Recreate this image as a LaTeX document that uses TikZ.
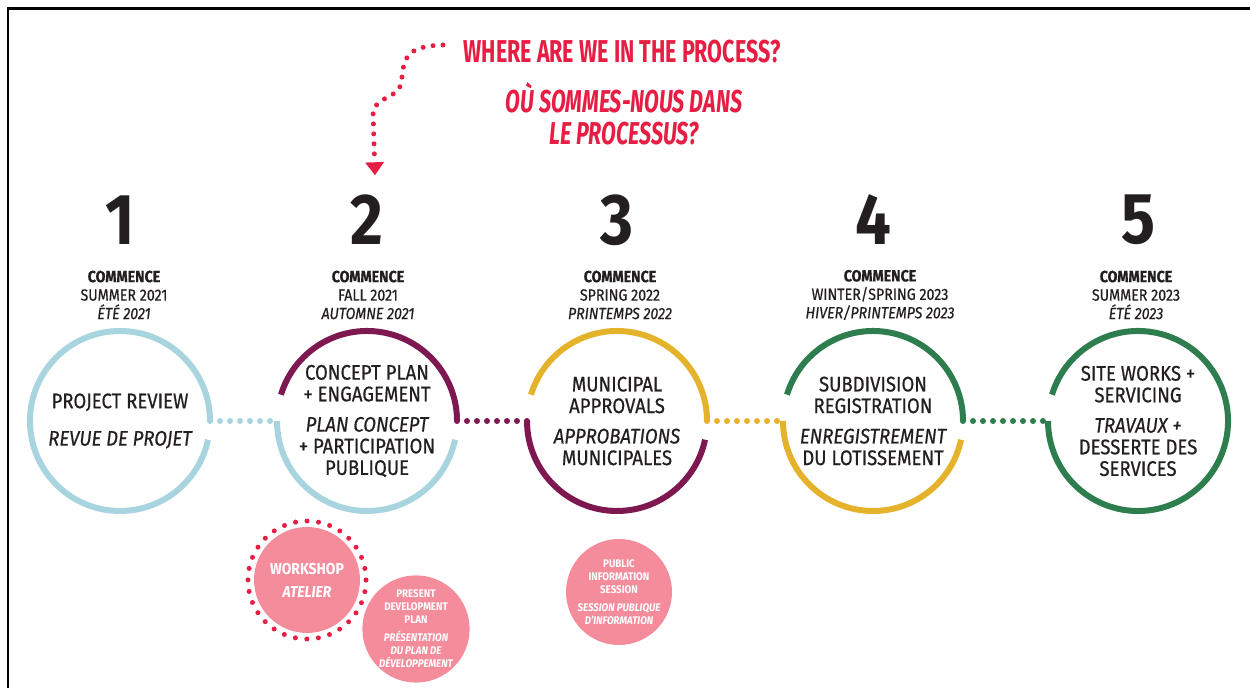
\documentclass[tikz,border=0pt]{standalone}
\usepackage{fontspec}
\setmainfont{Fira Sans}[FakeStretch=0.88]
\newfontfamily\titlefont{Fira Sans}[FakeStretch=0.68]
\newfontfamily\stagefont{Fira Sans}[FakeStretch=0.88, FakeBold=0.6]
\usetikzlibrary{positioning,arrows.meta}

\definecolor{ink}{HTML}{231F20}
\definecolor{skyring}{HTML}{A8D4E0}
\definecolor{plumring}{HTML}{7D1850}
\definecolor{goldring}{HTML}{E5B22B}
\definecolor{pinering}{HTML}{2E7D4F}
\definecolor{alertred}{HTML}{E61E43}
\definecolor{bubble}{HTML}{F48C9C}

\tikzset{
  ring/.style={line width=1.2mm},
  linkdots/.style={line width=1.2mm, line cap=round, dash pattern=on 0pt off 2mm},
  stage/.style={circle, minimum size=3.6cm, inner sep=0pt, outer sep=0pt, align=center,
    text=ink, font=\stagefont\fontsize{12}{12.3}\selectfont},
  bignum/.style={text=ink, inner sep=2pt, font=\fontsize{41}{41}\selectfont\bfseries},
  when/.style={text=ink, align=center, font=\stagefont\fontsize{9.2}{10.5}\selectfont},
  bubblenode/.style={circle, fill=bubble, text=white, inner sep=0pt, minimum size=2.12cm, align=center}
}

\begin{document}
\begin{tikzpicture}[x=0.02cm, y=0.02cm]
  \useasboundingbox (0,0) rectangle (1250,688);
  % Frame
  \draw[line width=1.7pt] (8,0) -- (8,679) -- (1250,679);

  % Title
  \node[text=alertred, font=\titlefont\bfseries\fontsize{18}{18}\selectfont] (asken) at (622,636)
    {WHERE ARE WE IN THE PROCESS?};
  \node[text=alertred, align=center, font=\titlefont\bfseries\itshape\fontsize{18}{18}\selectfont] (askfr) at (624,574)
    {OÙ SOMMES-NOUS DANS\\LE PROCESSUS?};

  % Stages
  \node[stage] (s1) at (120,267) {PROJECT REVIEW\\[9pt]\itshape REVUE DE PROJET};
  \node[stage] (s2) at (367,267) {CONCEPT PLAN\\+ ENGAGEMENT\\[5pt]\itshape PLAN CONCEPT\\+ PARTICIPATION\\PUBLIQUE};
  \node[stage] (s3) at (617,267) {MUNICIPAL\\APPROVALS\\[5pt]\itshape APPROBATIONS\\MUNICIPALES};
  \node[stage] (s4) at (873,267) {SUBDIVISION\\REGISTRATION\\[5pt]\itshape ENREGISTREMENT\\DU LOTISSEMENT};
  \node[stage] (s5) at (1138,267) {SITE WORKS +\\SERVICING\\[5pt]\itshape TRAVAUX +\\DESSERTE DES\\SERVICES};

  % Rings
  \draw[ring, skyring] (s1.0) arc[start angle=0, end angle=348, radius=90];
  \foreach \s/\low/\up in {s2/skyring/plumring, s3/plumring/goldring, s4/goldring/pinering} {
    \draw[ring, \low] (\s.180) arc[start angle=180, end angle=348, radius=90];
    \draw[ring, \up] (\s.163) arc[start angle=163, end angle=0, radius=90];
  }
  \draw[ring, pinering] (s5.163) arc[start angle=163, end angle=-180, radius=90];

  % Links
  \foreach \a/\b/\c in {s1/s2/skyring, s2/s3/plumring, s3/s4/goldring, s4/s5/pinering}
    \draw[linkdots, \c] (\a.east) -- (\b.west);

  % Numbers and dates
  \foreach \n/\x in {1/120, 2/367, 3/617, 4/873, 5/1138}
    \node[bignum] (n\n) at (\x,468) {\n};
  \node[when] (w1) at (124,393) {\textbf{COMMENCE}\\SUMMER 2021\\\textit{ÉTÉ 2021}};
  \node[when] (w2) at (368,393) {\textbf{COMMENCE}\\FALL 2021\\\textit{AUTOMNE 2021}};
  \node[when] (w3) at (620,393) {\textbf{COMMENCE}\\SPRING 2022\\\textit{PRINTEMPS 2022}};
  \node[when] (w4) at (880,393) {\textbf{COMMENCE}\\WINTER/SPRING 2023\\\textit{HIVER/PRINTEMPS 2023}};
  \node[when] (w5) at (1136,393) {\textbf{COMMENCE}\\SUMMER 2023\\\textit{ÉTÉ 2023}};

  % Pointer
  \coordinate (tail) at (443,643);
  \draw[alertred, line width=1mm, line cap=round, dash pattern=on 0pt off 2mm,
        -{Triangle[width=3.6mm, length=2.6mm]}]
    (tail) .. controls (416,642) and (405,636) .. (403,618) -- (401,604)
    .. controls (398,590) and (378,592) .. (373,577) -- ([shift={(8,16)}]n2.north);

  % Events
  \node[bubblenode, font=\fontsize{9}{13}\selectfont\bfseries] (ws) at (307,108)
    {WORKSHOP\\\itshape ATELIER};
  \draw[alertred, line width=1mm, line cap=round, dash pattern=on 0pt off 2.316mm]
    (ws.center) circle[radius=59];
  \node[bubblenode, font=\fontsize{6.3}{7.4}\selectfont\bfseries] (pdp) at (416,59)
    {PRESENT\\DEVELOPMENT\\PLAN\\[3pt]\itshape PRÉSENTATION\\\itshape DU PLAN DE\\\itshape DÉVELOPPEMENT};
  \node[bubblenode, font=\fontsize{6.3}{7.4}\selectfont\bfseries] (pis) at (619,96)
    {PUBLIC\\INFORMATION\\SESSION\\[3pt]\itshape SESSION PUBLIQUE\\\itshape D'INFORMATION};
\end{tikzpicture}
\end{document}
